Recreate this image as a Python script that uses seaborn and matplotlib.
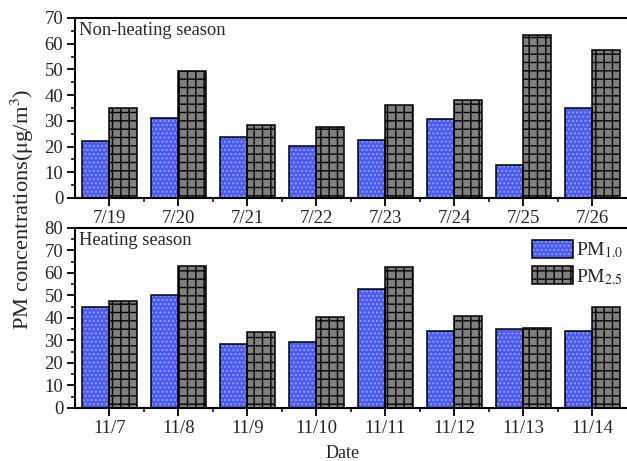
import numpy as np
import pandas as pd
import matplotlib
matplotlib.use('Agg')
import matplotlib.pyplot as plt
import seaborn as sns
from matplotlib.patches import Patch
from matplotlib.ticker import MultipleLocator, FixedLocator

# non-heating season
dates_ns = ['7/19', '7/20', '7/21', '7/22', '7/23', '7/24', '7/25', '7/26']
pm10_ns = [22.0, 31.0, 23.6, 20.3, 22.4, 30.6, 12.8, 35.1]
pm25_ns = [34.9, 49.4, 28.5, 27.7, 36.2, 38.2, 63.5, 57.7]

# heating season
dates_hs = ['11/7', '11/8', '11/9', '11/10', '11/11', '11/12', '11/13', '11/14']
pm10_hs = [45.0, 50.2, 28.4, 29.3, 52.7, 34.4, 35.0, 34.4]
pm25_hs = [47.7, 63.2, 33.8, 40.4, 62.8, 40.9, 35.6, 44.9]

series = ['PM1.0', 'PM2.5']

sns.set_style('ticks')
plt.rcParams['font.family'] = ['Liberation Serif', 'DejaVu Serif']
plt.rcParams['mathtext.fontset'] = 'stix'
plt.rcParams['hatch.linewidth'] = 1.0

blue = '#4a5cf0'
blue_dot = '#8f9cff'
grey = '#7f7f7f'

fig = plt.figure(figsize=(6.27, 4.61), dpi=100)
ax1 = fig.add_axes([0.1196, 0.5705, 0.8804, 0.3905])
ax2 = fig.add_axes([0.1196, 0.115, 0.8804, 0.3905])


def panel(ax, dates, pm10, pm25, ymax, label):
    df = pd.DataFrame({
        'Date': dates + dates,
        'PM': [series[0]] * len(dates) + [series[1]] * len(dates),
        'conc': pm10 + pm25,
    })
    sns.barplot(data=df, x='Date', y='conc', hue='PM', order=dates,
                hue_order=series, palette=[blue, grey], width=0.8,
                saturation=1, linewidth=0, errorbar=None, legend=False, ax=ax)
    n = len(dates)
    for i, p in enumerate(list(ax.patches)[:2 * n]):
        if i < n:
            p.set_hatch('....')
            p.set_edgecolor(blue_dot)
        else:
            p.set_hatch('++')
            p.set_edgecolor('black')
    # outlines on top
    sns.barplot(data=df, x='Date', y='conc', hue='PM', order=dates,
                hue_order=series, palette=['black', 'black'], width=0.8,
                fill=False, linewidth=1.1, errorbar=None, legend=False, ax=ax)

    ax.set_xlim(-0.5, len(dates) - 0.5)
    ax.set_ylim(0, ymax)
    ax.yaxis.set_major_locator(MultipleLocator(10))
    ax.yaxis.set_minor_locator(MultipleLocator(5))
    ax.xaxis.set_minor_locator(FixedLocator(np.arange(len(dates) - 1) + 0.5))
    ax.tick_params(axis='both', which='major', direction='out', length=6,
                   width=1.3, labelsize=13.5, pad=2.5, color='black')
    ax.tick_params(axis='both', which='minor', direction='out', length=3,
                   width=1.1, color='black')
    ax.set_xlabel('')
    ax.set_ylabel('')
    for s in ['left', 'bottom', 'top']:
        ax.spines[s].set_linewidth(1.5)
        ax.spines[s].set_color('black')
    ax.spines['right'].set_visible(False)
    ax.text(0.008, 0.975, label, transform=ax.transAxes, ha='left', va='top',
            fontsize=13.3)


panel(ax1, dates_ns, pm10_ns, pm25_ns, 70, 'Non-heating season')
panel(ax2, dates_hs, pm10_hs, pm25_hs, 80, 'Heating season')

h1 = (Patch(facecolor=blue, edgecolor=blue_dot, hatch='....', linewidth=0),
      Patch(facecolor='none', edgecolor='black', linewidth=1.1))
h2 = (Patch(facecolor=grey, edgecolor='black', hatch='++', linewidth=0),
      Patch(facecolor='none', edgecolor='black', linewidth=1.1))
ax2.legend([h1, h2], [r'PM$_{1.0}$', r'PM$_{2.5}$'], loc='upper right',
           bbox_to_anchor=(1.015, 1.0), frameon=False, fontsize=14,
           handlelength=2.15, handleheight=1.08, handletextpad=0.15,
           labelspacing=0.3, borderaxespad=0.2)

fig.text(0.036, 0.547, r'PM concentrations($\mathrm{\mu}$g/m$^3$)',
         rotation=90, ha='center', va='center', fontsize=16.2)
fig.text(0.547, 0.017, 'Date', ha='center', va='center', fontsize=13)

fig.savefig('out.png', dpi=100)
